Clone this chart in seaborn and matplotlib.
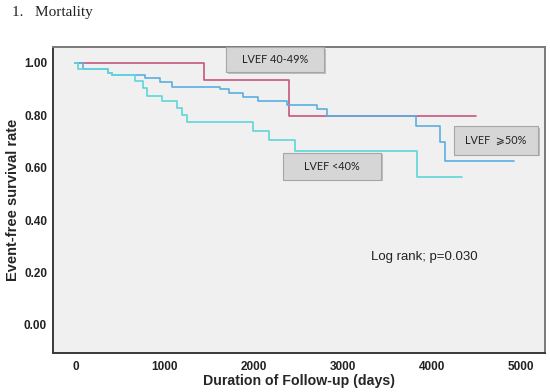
import matplotlib.pyplot as plt
import pandas as pd
import seaborn as sns
from matplotlib.patches import Rectangle

# Kaplan-Meier step data (days, event-free survival)
mid_days = [0, 1444, 2400, 4500]
mid_surv = [1.0, 0.936, 0.797, 0.797]

pres_days = [0, 80, 368, 406, 780, 950, 1080, 1622, 1723, 1883, 2050, 2370,
             2710, 2820, 3825, 4090, 4150, 4920]
pres_surv = [1.0, 0.978, 0.962, 0.952, 0.942, 0.928, 0.907, 0.900, 0.884,
             0.869, 0.854, 0.837, 0.822, 0.797, 0.758, 0.697, 0.627, 0.627]

red_days = [0, 30, 368, 406, 668, 754, 799, 967, 1135, 1192, 1248, 1992, 2172,
            2464, 3830, 4335]
red_surv = [1.0, 0.978, 0.962, 0.952, 0.929, 0.903, 0.875, 0.856, 0.828, 0.800,
            0.773, 0.739, 0.706, 0.665, 0.565, 0.565]

groups = ["LVEF 40-49%", "LVEF \u2a7e50%", "LVEF <40%"]
colors = ["#C4587C", "#5AAEE2", "#5ED6DA"]

x_ticks = [0, 1000, 2000, 3000, 4000, 5000]
y_ticks = [0.0, 0.2, 0.4, 0.6, 0.8, 1.0]


def build_df() -> pd.DataFrame:
    frames = []
    for name, d, s in zip(groups, [mid_days, pres_days, red_days],
                          [mid_surv, pres_surv, red_surv]):
        frames.append(pd.DataFrame({"days": d, "surv": s, "group": name}))
    return pd.concat(frames, ignore_index=True)


def main() -> None:
    sns.set_style("white")
    plt.rcParams["font.family"] = ["Liberation Sans", "DejaVu Sans"]

    df = build_df()

    fig = plt.figure(figsize=(5.5, 3.92), dpi=100)
    ax = fig.add_axes([0.0956, 0.1005, 0.8954, 0.7795])
    ax.set_facecolor("#F0F0F0")

    sns.lineplot(data=df, x="days", y="surv", hue="group", hue_order=groups,
                 palette=colors, drawstyle="steps-post", estimator=None,
                 legend=False, linewidth=1.2, ax=ax)

    ax.set_xlim(-257, 5270)
    ax.set_ylim(-0.106, 1.06)
    ax.set_xticks(x_ticks)
    ax.set_yticks(y_ticks)
    ax.set_yticklabels([f"{v:.2f}" for v in y_ticks])
    ax.tick_params(axis="x", length=0, labelsize=8.5, colors="#222222", pad=6)
    ax.tick_params(axis="y", length=0, labelsize=8.5, colors="#222222", pad=4)
    for lab in ax.get_xticklabels() + ax.get_yticklabels():
        lab.set_fontweight("bold")

    ax.set_xlabel("Duration of Follow-up (days)", fontsize=10.2,
                  fontweight="bold", labelpad=1)
    ax.set_ylabel("Event-free survival rate", fontsize=10.5,
                  fontweight="bold", labelpad=3)

    for side in ["left", "bottom"]:
        ax.spines[side].set_color("#3A3A3A")
        ax.spines[side].set_linewidth(1.4)
    for side in ["top", "right"]:
        ax.spines[side].set_color("#7A7A7A")
        ax.spines[side].set_linewidth(1.4)

    # group label boxes
    boxes = [
        (1689, 0.964, 1100, 0.095, groups[0]),
        (4248, 0.649, 943, 0.108, "LVEF  \u2a7e50%"),
        (2329, 0.554, 1100, 0.103, groups[2]),
    ]
    for x0, y0, w, h, text in boxes:
        ax.add_patch(Rectangle((x0 + 25, y0 - 0.006), w, h, facecolor="#BDBDBD",
                               edgecolor="none", zorder=4))
        ax.add_patch(Rectangle((x0, y0), w, h, facecolor="#D6D6D6",
                               edgecolor="#A6A6A6", linewidth=0.8, zorder=5))
        ax.text(x0 + w / 2, y0 + h / 2, text, ha="center", va="center",
                fontsize=7.8, color="#222222", zorder=6,
                family=["Lato", "DejaVu Sans"])

    ax.text(3316, 0.259, "Log rank; p=0.030", fontsize=9.5, color="#222222",
            va="center")

    fig.text(0.022, 0.967, "1.   Mortality", fontsize=11, va="center",
             family=["Liberation Serif", "DejaVu Serif"], color="#222222")

    fig.savefig("out.png", dpi=100)
    plt.close(fig)


if __name__ == "__main__":
    main()
